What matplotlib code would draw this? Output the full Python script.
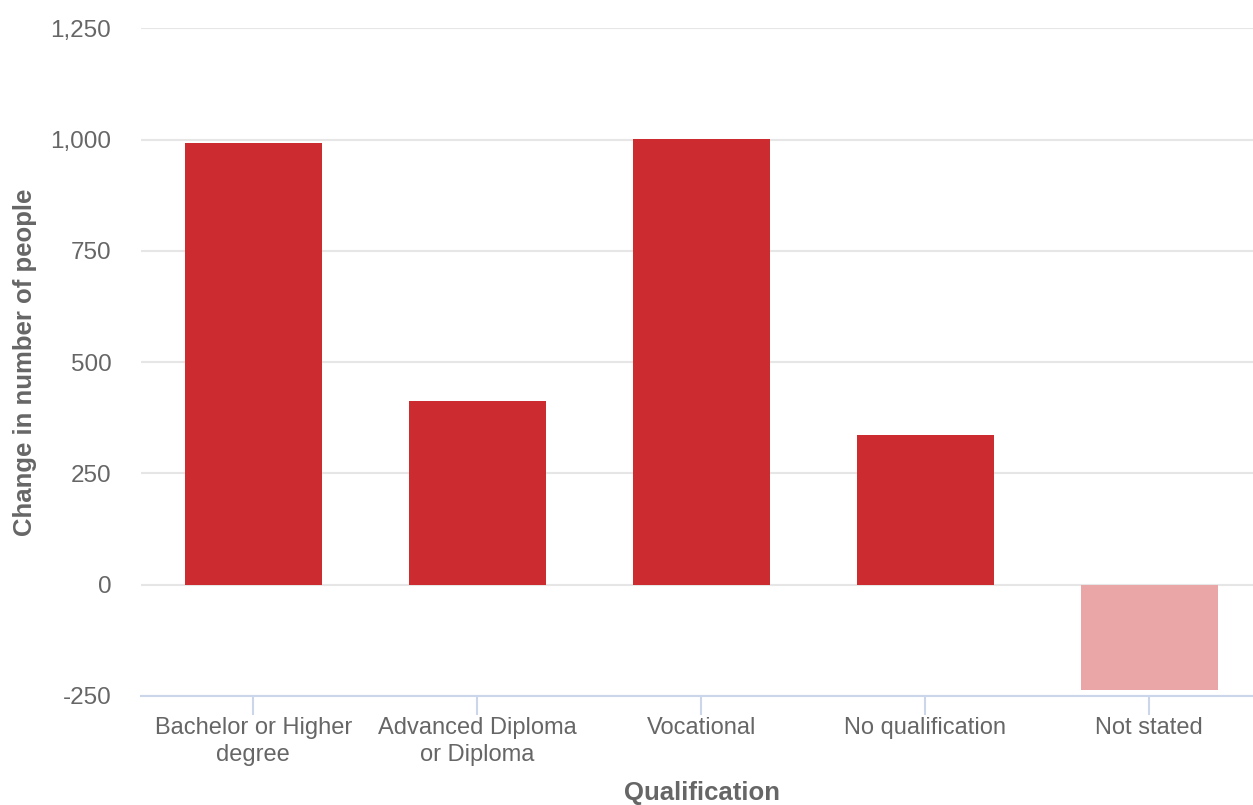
import matplotlib.pyplot as plt
from matplotlib.ticker import FuncFormatter

plt.rcParams['font.family'] = ['Liberation Sans', 'DejaVu Sans']

# data
categories = ["Bachelor or Higher\ndegree", "Advanced Diploma\nor Diploma",
              "Vocational", "No qualification", "Not stated"]
change = [993, 413, 1002, 336, -237]
bar_colors = ["#cc2c30", "#cc2c30", "#cc2c30", "#cc2c30", "#eaa5a7"]
y_ticks = [-250, 0, 250, 500, 750, 1000, 1250]

fig = plt.figure(figsize=(12.53, 8.05), dpi=100)
ax = fig.add_axes([141.3 / 1253, 1 - 695.7 / 805, 1111.7 / 1253, 667.2 / 805])

x = list(range(len(categories)))
ax.bar(x, change, width=0.61, color=bar_colors, zorder=3)

ax.set_xlim(-0.5, -0.5 + 1111.7 / 224)
ax.set_ylim(-250, 1250)
ax.set_yticks(y_ticks)
ax.yaxis.set_major_formatter(FuncFormatter(lambda v, p: f"{int(v):,}"))
ax.grid(axis="y", color="#e6e6e6", linewidth=1.5, zorder=0)

ax.set_xticks(x)
ax.set_xticklabels(categories, linespacing=1.3)

for s in ["top", "right", "left"]:
    ax.spines[s].set_visible(False)
ax.spines["bottom"].set_color("#ccd6eb")
ax.spines["bottom"].set_linewidth(1.5)
ax.spines["bottom"].set_zorder(4)

ax.tick_params(axis="x", length=14, width=1.5, color="#ccd6eb", labelsize=17,
               labelcolor="#666666", pad=1)
ax.tick_params(axis="y", length=0, labelsize=17.5, labelcolor="#666666", pad=21.6)

# axis titles
ax.text(-0.1046, 0.5, "Change in number of people", transform=ax.transAxes,
        rotation=90, ha="center", va="center", fontsize=18.5,
        fontweight="bold", color="#666666")
ax.text(0.5044, -0.1458, "Qualification", transform=ax.transAxes,
        ha="center", va="center", fontsize=18.5, fontweight="bold",
        color="#666666")

plt.savefig("out.png", dpi=100)
